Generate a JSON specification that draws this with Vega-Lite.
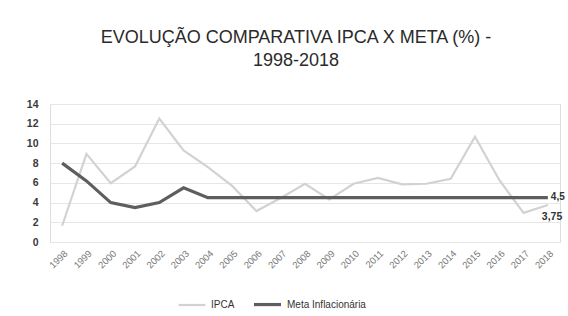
{
  "$schema": "https://vega.github.io/schema/vega-lite/v6.json",
  "width": 510,
  "height": 138,
  "autosize": {"type": "none"},
  "padding": {"left": 50, "top": 104, "right": 8, "bottom": 74},
  "background": "white",
  "title": {
    "text": ["EVOLUÇÃO COMPARATIVA IPCA X META (%) -", "1998-2018"],
    "font": "Liberation Sans",
    "fontSize": 18,
    "fontWeight": "normal",
    "color": "#2a2a2a",
    "anchor": "middle",
    "dx": -9,
    "offset": 29,
    "lineHeight": 23
  },
  "data": {
    "values": [
      {"ano": "1998", "serie": "IPCA", "valor": 1.65},
      {"ano": "1999", "serie": "IPCA", "valor": 8.94},
      {"ano": "2000", "serie": "IPCA", "valor": 5.97},
      {"ano": "2001", "serie": "IPCA", "valor": 7.67},
      {"ano": "2002", "serie": "IPCA", "valor": 12.53},
      {"ano": "2003", "serie": "IPCA", "valor": 9.3},
      {"ano": "2004", "serie": "IPCA", "valor": 7.6},
      {"ano": "2005", "serie": "IPCA", "valor": 5.69},
      {"ano": "2006", "serie": "IPCA", "valor": 3.14},
      {"ano": "2007", "serie": "IPCA", "valor": 4.46},
      {"ano": "2008", "serie": "IPCA", "valor": 5.9},
      {"ano": "2009", "serie": "IPCA", "valor": 4.31},
      {"ano": "2010", "serie": "IPCA", "valor": 5.91},
      {"ano": "2011", "serie": "IPCA", "valor": 6.5},
      {"ano": "2012", "serie": "IPCA", "valor": 5.84},
      {"ano": "2013", "serie": "IPCA", "valor": 5.91},
      {"ano": "2014", "serie": "IPCA", "valor": 6.41},
      {"ano": "2015", "serie": "IPCA", "valor": 10.67},
      {"ano": "2016", "serie": "IPCA", "valor": 6.29},
      {"ano": "2017", "serie": "IPCA", "valor": 2.95},
      {"ano": "2018", "serie": "IPCA", "valor": 3.75, "rotulo": "3,75"},
      {"ano": "1998", "serie": "Meta Inflacionária", "valor": 8},
      {"ano": "1999", "serie": "Meta Inflacionária", "valor": 6.2},
      {"ano": "2000", "serie": "Meta Inflacionária", "valor": 4},
      {"ano": "2001", "serie": "Meta Inflacionária", "valor": 3.5},
      {"ano": "2002", "serie": "Meta Inflacionária", "valor": 4},
      {"ano": "2003", "serie": "Meta Inflacionária", "valor": 5.5},
      {"ano": "2004", "serie": "Meta Inflacionária", "valor": 4.5},
      {"ano": "2005", "serie": "Meta Inflacionária", "valor": 4.5},
      {"ano": "2006", "serie": "Meta Inflacionária", "valor": 4.5},
      {"ano": "2007", "serie": "Meta Inflacionária", "valor": 4.5},
      {"ano": "2008", "serie": "Meta Inflacionária", "valor": 4.5},
      {"ano": "2009", "serie": "Meta Inflacionária", "valor": 4.5},
      {"ano": "2010", "serie": "Meta Inflacionária", "valor": 4.5},
      {"ano": "2011", "serie": "Meta Inflacionária", "valor": 4.5},
      {"ano": "2012", "serie": "Meta Inflacionária", "valor": 4.5},
      {"ano": "2013", "serie": "Meta Inflacionária", "valor": 4.5},
      {"ano": "2014", "serie": "Meta Inflacionária", "valor": 4.5},
      {"ano": "2015", "serie": "Meta Inflacionária", "valor": 4.5},
      {"ano": "2016", "serie": "Meta Inflacionária", "valor": 4.5},
      {"ano": "2017", "serie": "Meta Inflacionária", "valor": 4.5},
      {"ano": "2018", "serie": "Meta Inflacionária", "valor": 4.5, "rotulo": "4,5"}
    ]
  },
  "encoding": {
    "x": {
      "field": "ano",
      "type": "ordinal",
      "scale": {"type": "point", "padding": 0.5},
      "axis": {
        "title": null,
        "labelAngle": -45,
        "labelFont": "Liberation Sans",
        "labelFontSize": 9.5,
        "labelColor": "#777",
        "domain": false,
        "ticks": false,
        "labelPadding": 6
      }
    },
    "y": {
      "field": "valor",
      "type": "quantitative",
      "scale": {"domain": [0, 14]},
      "axis": {
        "title": null,
        "values": [0, 2, 4, 6, 8, 10, 12, 14],
        "labelFont": "Liberation Sans",
        "labelFontSize": 10.5,
        "labelColor": "#3a3a3a",
        "labelFontWeight": "bold",
        "domain": false,
        "ticks": false,
        "labelPadding": 12,
        "gridColor": "#e6e6e6"
      }
    }
  },
  "layer": [
    {
      "mark": {"type": "line"},
      "encoding": {
        "color": {
          "field": "serie",
          "type": "nominal",
          "scale": {"domain": ["IPCA", "Meta Inflacionária"], "range": ["#d2d2d2", "#5e5e5e"]},
          "legend": {
            "title": null,
            "orient": "none",
            "direction": "horizontal",
            "legendX": 127,
            "legendY": 185,
            "symbolType": "stroke",
            "symbolSize": 729,
            "symbolStrokeWidth": 2,
            "labelOffset": 4,
            "labelFont": "Liberation Sans",
            "labelFontSize": 10,
            "labelColor": "#333",
            "columnPadding": 12
          }
        },
        "strokeWidth": {
          "field": "serie",
          "type": "nominal",
          "scale": {"domain": ["IPCA", "Meta Inflacionária"], "range": [2.2, 3.2]},
          "legend": null
        }
      }
    },
    {
      "transform": [{"filter": "datum.rotulo != null && datum.serie == 'IPCA'"}],
      "mark": {"type": "text", "align": "left", "baseline": "middle", "dx": -6, "dy": 12, "font": "Liberation Sans", "fontSize": 10.5, "fontWeight": "bold", "color": "#333"},
      "encoding": {"text": {"field": "rotulo"}}
    },
    {
      "transform": [{"filter": "datum.rotulo != null && datum.serie != 'IPCA'"}],
      "mark": {"type": "text", "align": "left", "baseline": "middle", "dx": 3, "dy": -1, "font": "Liberation Sans", "fontSize": 10, "fontWeight": "bold", "color": "#333"},
      "encoding": {"text": {"field": "rotulo"}}
    }
  ]
}
